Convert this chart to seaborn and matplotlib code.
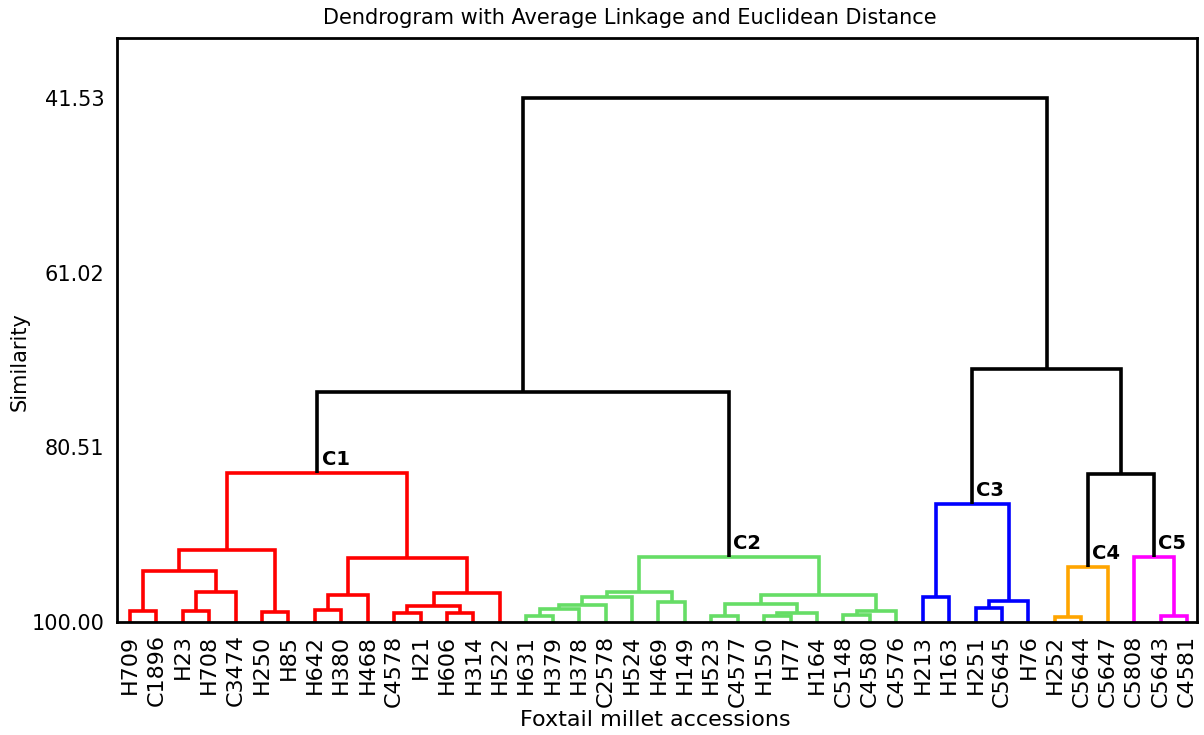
import numpy as np
import pandas as pd
import matplotlib.pyplot as plt
import seaborn as sns

# leaf order along the x axis
accessions = ["H709", "C1896", "H23", "H708", "C3474", "H250", "H85", "H642", "H380", "H468",
              "C4578", "H21", "H606", "H314", "H522",
              "H631", "H379", "H378", "C2578", "H524", "H469", "H149", "H523", "C4577", "H150",
              "H77", "H164", "C5148", "C4580", "C4576",
              "H213", "H163", "H251", "C5645", "H76",
              "H252", "C5644", "C5647",
              "C5808", "C5643", "C4581"]

# merges: node "m{i}" joins merge_left[i] and merge_right[i] at merge_sim[i]
merge_left = ["H709", "H23", "m1", "m0", "H250", "m3", "H642", "m6", "C4578", "H606",
              "m8", "m10", "m7", "m5",
              "H631", "m14", "m15", "m16", "H469", "m17", "H523", "H150", "m21", "m20",
              "C5148", "m24", "m23", "m19",
              "H213", "H251", "m29", "m28",
              "H252", "m32",
              "C5643", "C5808",
              "m33", "m31", "m13", "m38"]
merge_right = ["C1896", "H708", "C3474", "m2", "H85", "m4", "H380", "H468", "H21", "H314",
               "m9", "H522", "m11", "m12",
               "H379", "H378", "C2578", "H524", "H149", "m18", "C4577", "H77", "H164", "m22",
               "C4580", "C4576", "m25", "m26",
               "H163", "C5645", "H76", "m30",
               "C5644", "C5647",
               "C4581", "m34",
               "m35", "m36", "m27", "m37"]
merge_sim = [98.77, 98.77, 96.65, 94.31, 98.88, 91.96, 98.66, 96.99, 98.99, 98.99,
             98.21, 96.76, 92.86, 83.37,
             99.33, 98.55, 98.10, 97.21, 97.77, 96.65, 99.33, 99.33, 98.99, 97.99,
             99.21, 98.77, 96.99, 92.75,
             97.21, 98.44, 97.65, 86.83,
             99.44, 93.86,
             99.33, 92.75,
             83.48, 71.77, 74.33, 41.53]

cluster_names = ["C1", "C2", "C3", "C4", "C5"]
cluster_tops = ["m13", "m27", "m31", "m33", "m35"]
cluster_colors = ["#ff0000", "#66dd66", "#0000ff", "#ffa500", "#ff00ff"]

sim_ticks = [41.53, 61.02, 80.51, 100.00]

# node positions
pos = {name: (i, 100.0) for i, name in enumerate(accessions)}
children = {}
for i, (a, b, s) in enumerate(zip(merge_left, merge_right, merge_sim)):
    node = f"m{i}"
    children[node] = (a, b)
    pos[node] = ((pos[a][0] + pos[b][0]) / 2, s)

group_of = {}


def mark(node, grp):
    group_of[node] = grp
    for ch in children.get(node, ()):
        mark(ch, grp)


for name, top in zip(cluster_names, cluster_tops):
    mark(top, name)

rows = []
for i, (a, b) in enumerate(zip(merge_left, merge_right)):
    node = f"m{i}"
    h = pos[node][1]
    grp = group_of.get(node, "none")
    for x, y in [pos[a], (pos[a][0], h), (pos[b][0], h), pos[b]]:
        rows.append(dict(link=node, x=x, y=y, cluster=grp))
df = pd.DataFrame(rows)

palette = dict(zip(cluster_names, cluster_colors))
palette["none"] = "black"

sns.set_style("white")
plt.rcParams.update({"text.color": "black", "axes.labelcolor": "black",
                     "xtick.color": "black", "ytick.color": "black"})
fig = plt.figure(figsize=(12.04, 7.35), dpi=100)
ax = fig.add_axes([117 / 1204, 1 - 622 / 735, 1080 / 1204, 584 / 735])

sns.lineplot(data=df, x="x", y="y", hue="cluster", units="link", estimator=None, sort=False,
             palette=palette, legend=False, lw=2.6, ax=ax,
             solid_joinstyle="miter", solid_capstyle="butt")

for name, top in zip(cluster_names, cluster_tops):
    x, h = pos[top]
    ax.annotate(name, (x, h), xytext=(3, 3), textcoords="offset points", ha="left", va="bottom",
                fontsize=14, fontweight="bold", family=["Liberation Sans Narrow", "DejaVu Sans"])

ax.set_xlim(-0.49, 40.38)
ax.set_ylim(100, 34.83)
ax.set_xticks(range(len(accessions)), accessions, rotation=90, fontsize=16)
ax.set_yticks(sim_ticks, [f"{v:.2f}" for v in sim_ticks], fontsize=15)
ax.tick_params(direction="out", length=6, width=1.6, color="black", pad=3)
for sp in ax.spines.values():
    sp.set_visible(True)
    sp.set_color("black")
    sp.set_linewidth(2)

ax.set_xlabel("")
ax.set_ylabel("")
fig.text(655 / 1204, 1 - 720 / 735, "Foxtail millet accessions", ha="center", va="center", fontsize=16)
fig.text(20 / 1204, 1 - 362 / 735, "Similarity", rotation=90, ha="center", va="center", fontsize=15)
fig.text(630 / 1204, 1 - 18 / 735, "Dendrogram with Average Linkage and Euclidean Distance",
         ha="center", va="center", fontsize=15)

fig.savefig("out.png", dpi=100)
